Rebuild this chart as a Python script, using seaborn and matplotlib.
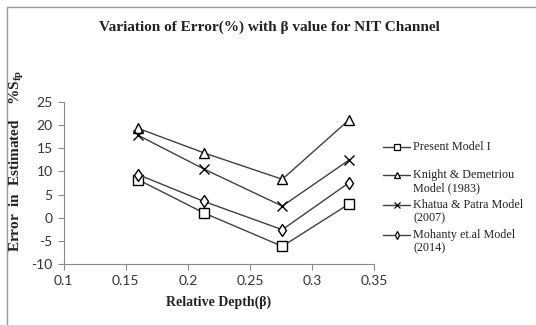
import matplotlib
matplotlib.use("Agg")
import matplotlib.pyplot as plt
import seaborn as sns
import pandas as pd
from matplotlib.lines import Line2D
from matplotlib.patches import Rectangle

beta = [0.16, 0.213, 0.276, 0.33]
present_model = [8.2, 1.0, -6.2, 3.0]
knight_demetriou = [19.3, 14.0, 8.3, 21.2]
khatua_patra = [17.8, 10.5, 2.5, 12.5]
mohanty = [9.3, 3.5, -2.6, 7.6]

series_names = ["Present Model I", "Knight & Demetriou\nModel (1983)",
                "Khatua & Patra Model\n(2007)", "Mohanty et.al Model\n(2014)"]
series_values = [present_model, knight_demetriou, khatua_patra, mohanty]
markers = ["s", "^", "x", "d"]
msizes = [6.5, 7, 7.5, 6.5]

x_ticks = [0.1, 0.15, 0.2, 0.25, 0.3, 0.35]
y_ticks = [-10, -5, 0, 5, 10, 15, 20, 25]

sns.set_theme(style="white")
plt.rcParams["font.family"] = ["Lato", "DejaVu Sans"]

W, H = 536, 325
fig = plt.figure(figsize=(5.36, 3.25), dpi=100)
ax = fig.add_axes([0.119, 0.188, 0.579, 0.498])

line_color = "#404040"
for name, vals, m, ms in zip(series_names, series_values, markers, msizes):
    df = pd.DataFrame({"beta": beta, "err": vals})
    sns.lineplot(data=df, x="beta", y="err", ax=ax, color=line_color,
                 marker=m, markersize=ms, markerfacecolor="white",
                 markeredgecolor="black", markeredgewidth=1.0,
                 linewidth=1.0, legend=False)

ax.set_xlim(0.1, 0.35)
ax.set_ylim(-10, 25)
ax.set_xticks(x_ticks)
ax.set_xticklabels(["0.1", "0.15", "0.2", "0.25", "0.3", "0.35"])
ax.set_yticks(y_ticks)
ax.set_yticklabels([str(v) for v in y_ticks])
for s in ["top", "right"]:
    ax.spines[s].set_visible(False)
for s in ["left", "bottom"]:
    ax.spines[s].set_color("#888888")
    ax.spines[s].set_linewidth(0.8)
ax.tick_params(axis="both", direction="out", length=4, width=0.8,
               color="#888888", labelsize=10, labelcolor="#333333", pad=4,
               left=True, bottom=True)
ax.grid(False)
ax.set_ylabel("")

serif = ["Liberation Serif", "DejaVu Serif"]
ax.set_xlabel("Relative Depth(β)", fontfamily=serif, fontweight="bold",
              fontsize=10, labelpad=6, color="#222222")
fig.text(0.031, 0.505, r"Error  in  Estimated    %S$_{\mathregular{fp}}$", rotation=90,
         ha="center", va="center", fontfamily=serif, fontweight="bold",
         fontsize=11, color="#222222")
fig.text(0.502, 0.917, "Variation of Error(%) with β value for NIT Channel",
         ha="center", va="center", fontfamily=serif, fontweight="bold",
         fontsize=11, color="#222222")

# legend (marker aligned with first text line, as in the reference)
leg_y = [147, 175, 205, 235]
x0, x1, xt = 383, 410, 413
for name, m, yy in zip(series_names, markers, leg_y):
    fy = 1 - yy / H
    fig.add_artist(Line2D([x0 / W, x1 / W], [fy, fy], transform=fig.transFigure,
                          color=line_color, lw=1.0))
    fig.add_artist(Line2D([(x0 + x1) / 2 / W], [fy], transform=fig.transFigure,
                          marker=m, markersize=4, markerfacecolor="white",
                          markeredgecolor="black", markeredgewidth=0.9, lw=0))
    fig.text(xt / W, 1 - (yy - 5.8) / H, name, ha="left", va="top",
             fontfamily=serif, fontsize=8.7, linespacing=1.08, color="#222222")

fig.patches.append(Rectangle((7 / W, -0.1), 1.2, 1 - 7 / H + 0.1,
                             transform=fig.transFigure, fill=False,
                             edgecolor="#999999", linewidth=1.0))

fig.savefig("out.png", dpi=100)
